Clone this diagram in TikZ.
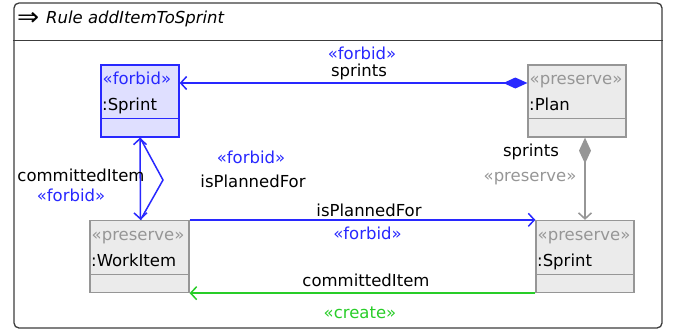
\documentclass[tikz,border=0pt]{standalone}
\usepackage{fontspec}
\setmainfont{DejaVu Sans}
\usepackage{tikz}
\usetikzlibrary{arrows.meta,positioning}
\definecolor{forbid}{RGB}{40, 40, 255}
\definecolor{preserve}{RGB}{150, 150, 150}
\definecolor{create}{RGB}{40, 205, 40}
\definecolor{frame}{RGB}{60, 60, 60}
\newcommand{\umlfont}{\fontsize{16.5}{19}\selectfont}
\tikzstyle{rulebox} = [rectangle, draw=frame, line width=1.3pt, rounded corners=5pt, inner sep=0pt]
\tikzstyle{fobj} = [rectangle, draw=forbid, line width=1.3pt, fill=forbid!15, inner sep=0pt]
\tikzstyle{pobj} = [rectangle, draw=preserve, line width=1.3pt, fill=black!8, inner sep=0pt]
\tikzstyle{textonly} = [draw=none, fill=none, inner sep=0pt, anchor=base, font=\umlfont]
\tikzstyle{objtext} = [textonly, anchor=base west]
\tikzstyle{fedge} = [draw=forbid, line width=1.5pt]
\tikzstyle{pedge} = [draw=preserve, line width=1.5pt]
\tikzstyle{cedge} = [draw=create, line width=1.5pt]

\begin{document}
\begin{tikzpicture}[x=1pt, y=-1pt, >={Straight Barb[length=6pt,width=13pt]}]
\useasboundingbox (0,0) rectangle (677,330);

% rule frame =============================
\node[rulebox, minimum width=648pt, minimum height=325pt] (rule) at (338,165.5) {};
\draw[frame, line width=1.3pt] ([yshift=-38pt]rule.north west) -- ([yshift=-38pt]rule.north east);
\node[textonly, anchor=west] (ruleicon) at (17,19) {\scalebox{1.6}[1.5]{⇒}};
\node[textonly, anchor=west, font=\umlfont\itshape] (rulename) at (46,19) {Rule addItemToSprint};

% objects =============================
\node[fobj, minimum width=78pt, minimum height=72pt] (fsprint) at (140,101) {};
\node[pobj, minimum width=98pt, minimum height=72pt] (plan) at (577,101) {};
\node[pobj, minimum width=99pt, minimum height=72pt] (wi) at (139.5,256.5) {};
\node[pobj, minimum width=98pt, minimum height=72pt] (psprint) at (585,256.5) {};
\draw[forbid, line width=1.3pt] ([yshift=19pt]fsprint.south west) -- ([yshift=19pt]fsprint.south east);
\draw[preserve, line width=1.3pt] ([yshift=19pt]plan.south west) -- ([yshift=19pt]plan.south east);
\draw[preserve, line width=1.3pt] ([yshift=19pt]wi.south west) -- ([yshift=19pt]wi.south east);
\draw[preserve, line width=1.3pt] ([yshift=19pt]psprint.south west) -- ([yshift=19pt]psprint.south east);

\node[objtext, text=forbid] (fsprintst) at (102.5,84) {«forbid»};
\node[objtext] (fsprintname) at (102,110) {:Sprint};
\node[objtext, text=preserve] (planst) at (529.5,84) {«preserve»};
\node[objtext] (planname) at (529,110) {:Plan};
\node[objtext, text=preserve] (wist) at (91.5,240) {«preserve»};
\node[objtext] (winame) at (91,266) {:WorkItem};
\node[objtext, text=preserve] (psprintst) at (537.5,240) {«preserve»};
\node[objtext] (psprintname) at (537,266) {:Sprint};

% edges =============================
\path[fedge, {Diamond[length=24pt,width=11pt]}->] ([yshift=18pt]plan.west) -- ([yshift=18pt]fsprint.east);
\path[pedge, {Diamond[length=26pt,width=12pt]}->] ([xshift=8pt]plan.south) -- (psprint.north);
\path[fedge, <->] ([xshift=1pt]wi.north) -- (fsprint.south);
\path[fedge] (fsprint.south) -- (163,180) -- ([xshift=1pt]wi.north);
\path[fedge, ->] (wi.north east) -- (psprint.north west);
\path[cedge, ->] (psprint.south west) -- (wi.south east);

% edge labels
\node[textonly, text=forbid] (sprintsst) at (362,59) {«forbid»};
\node[textonly] (sprintsname) at (359,76) {sprints};
\node[textonly] (plansprintsname) at (531,156) {sprints};
\node[textonly, text=preserve] (plansprintsst) at (530,181) {«preserve»};
\node[textonly] (fcommitname) at (81,181) {committedItem};
\node[textonly, text=forbid] (fcommitst) at (71,201) {«forbid»};
\node[textonly, text=forbid] (fplannedst) at (251,163) {«forbid»};
\node[textonly] (fplannedname) at (253,187) {isPlannedFor};
\node[textonly] (plannedname) at (369,216) {isPlannedFor};
\node[textonly, text=forbid] (plannedst) at (367.5,239) {«forbid»};
\node[textonly] (commitname) at (366,286) {committedItem};
\node[textonly, text=create] (commitst) at (360,318) {«create»};

\end{tikzpicture}
\end{document}
